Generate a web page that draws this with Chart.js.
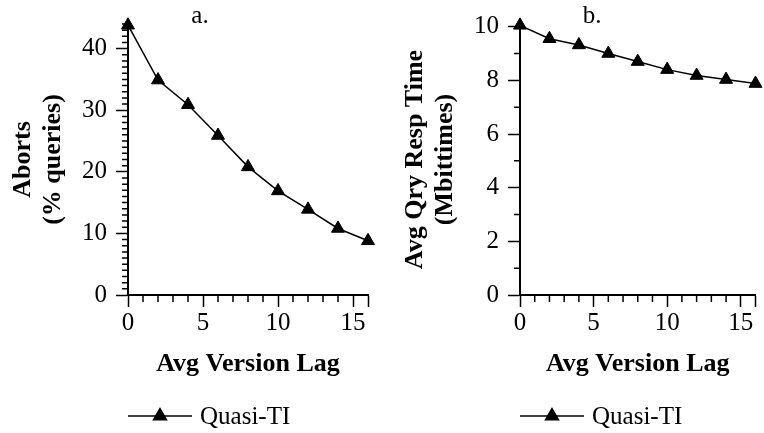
<!DOCTYPE html>
<html>
<head>
<meta charset="utf-8">
<script src="https://cdn.jsdelivr.net/npm/chart.js@4/dist/chart.umd.min.js"></script>
<style>
  body { margin: 0; background: #fff; }
  #painel { position: relative; width: 764px; height: 433px; }
  canvas { position: absolute; top: 0; }
</style>
</head>
<body>
<div id="painel">
  <canvas id="graficoA" width="382" height="433" style="left:0"></canvas>
  <canvas id="graficoB" width="382" height="433" style="left:382px"></canvas>
</div>
<script>
const lag = [0, 2, 4, 6, 8, 10, 12, 14, 16];
const aborts = [43.8, 34.9, 30.9, 25.9, 20.8, 16.9, 13.9, 10.8, 8.8];
const respTime = [10.05, 9.55, 9.32, 9.0, 8.7, 8.4, 8.18, 8.03, 7.88];

const lagTicks = [0, 5, 10, 15];
const abortTicks = [0, 10, 20, 30, 40];
const respTicks = [0, 2, 4, 6, 8, 10];

Chart.defaults.font.family = '"Liberation Serif", "Times New Roman", serif';
Chart.defaults.font.size = 25;
Chart.defaults.color = '#000';

const fonteTitulo = { size: 26, weight: 'bold', lineHeight: 1.15 };

// minor ticks, panel letter and the line+marker legend
const extras = {
  id: 'extras',
  afterDraw(chart, args, opts) {
    const ctx = chart.ctx;
    const x = chart.scales.x;
    const y = chart.scales.y;
    const area = chart.chartArea;
    ctx.save();
    ctx.strokeStyle = '#000';
    ctx.fillStyle = '#000';
    ctx.lineWidth = 1.5;

    ctx.beginPath();
    for (let v = x.min; v < x.max; v += 1) {
      if (lagTicks.includes(v)) continue;
      const px = x.getPixelForValue(v);
      ctx.moveTo(px, area.bottom);
      ctx.lineTo(px, area.bottom + 7);
    }
    for (let v = 0; v <= y.max; v += 1) {
      if (opts.yMajor.includes(v)) continue;
      const py = y.getPixelForValue(v);
      ctx.moveTo(area.left, py);
      ctx.lineTo(area.left - 6, py);
    }
    ctx.stroke();

    ctx.font = '25px "Liberation Serif"';
    ctx.textBaseline = 'middle';
    ctx.textAlign = 'center';
    ctx.fillText(opts.letter, area.left + 72, 16);

    const ly = chart.height - 17;
    ctx.beginPath();
    ctx.moveTo(area.left, ly);
    ctx.lineTo(area.left + 64, ly);
    ctx.stroke();
    Chart.helpers.drawPoint(ctx, { pointStyle: 'triangle', radius: 7.5, borderWidth: 1, rotation: 0 }, area.left + 32, ly);
    ctx.textAlign = 'left';
    ctx.fillText(opts.legend, area.left + 72, ly + 1);
    ctx.restore();
  }
};

function grafico(id, valores, yMax, yTicks, yTitulo, tituloPad, eixoLargura, padDireita, letra) {
  return new Chart(document.getElementById(id), {
    type: 'line',
    data: {
      datasets: [{
        label: 'Quasi-TI',
        data: lag.map((l, i) => ({ x: l, y: valores[i] })),
        borderColor: '#000',
        borderWidth: 1.5,
        backgroundColor: '#000',
        pointStyle: 'triangle',
        pointRadius: 7.5,
        pointBorderWidth: 1,
        tension: 0,
        clip: false
      }]
    },
    options: {
      responsive: false,
      animation: false,
      layout: { padding: { top: 18, left: 0, right: padDireita, bottom: 53 } },
      plugins: {
        legend: { display: false },
        tooltip: { enabled: false },
        extras: { yMajor: yTicks, letter: letra, legend: 'Quasi-TI' }
      },
      scales: {
        x: {
          type: 'linear',
          min: 0,
          max: 16,
          afterBuildTicks: s => { s.ticks = [...lagTicks, 16].map(v => ({ value: v })); },
          afterFit: s => { s.height = 85; },
          ticks: {
            padding: 1,
            maxRotation: 0,
            callback: v => lagTicks.includes(v) ? v : ''
          },
          grid: { drawOnChartArea: false, tickLength: 12, tickColor: '#000', tickWidth: 1.5 },
          border: { color: '#000', width: 2 },
          title: { display: true, text: 'Avg Version Lag', font: fonteTitulo, padding: { top: 0, bottom: 1 } }
        },
        y: {
          min: 0,
          max: yMax,
          afterBuildTicks: s => { s.ticks = yTicks.map(v => ({ value: v })); },
          afterFit: s => { s.width = eixoLargura; },
          ticks: { padding: 9 },
          grid: { drawOnChartArea: false, tickLength: 12, tickColor: '#000', tickWidth: 1.5 },
          border: { color: '#000', width: 2 },
          title: { display: true, text: yTitulo, font: fonteTitulo, padding: { top: tituloPad, bottom: 0 } }
        }
      }
    },
    plugins: [extras]
  });
}

grafico('graficoA', aborts, 44, abortTicks, ['Aborts', '(% queries)'], 8, 128, 14, 'a.');
grafico('graficoB', respTime, 10.1, respTicks, ['Avg Qry Resp Time', '(Mbittimes)'], 18, 138, 3, 'b.');
</script>
</body>
</html>
